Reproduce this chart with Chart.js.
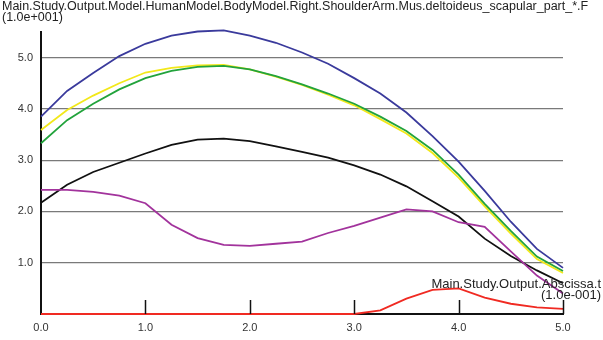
<!DOCTYPE html>
<html>
<head>
<meta charset="utf-8">
<script src="https://cdn.jsdelivr.net/npm/chart.js@4"></script>
<style>
  html, body { margin: 0; padding: 0; background: #fff; }
  #wrap { width: 603px; height: 340px; }
</style>
</head>
<body>
<div id="wrap"><canvas id="lineChart" width="603" height="340"></canvas></div>
<script>
// data (y in units of 1.0e+001)
const xs = [0, 0.25, 0.5, 0.75, 1, 1.25, 1.5, 1.75, 2, 2.25, 2.5, 2.75, 3, 3.25, 3.5, 3.75, 4, 4.25, 4.5, 4.75, 5];
const blueVals = [3.85, 4.35, 4.7, 5.03, 5.27, 5.43, 5.51, 5.53, 5.43, 5.29, 5.1, 4.88, 4.6, 4.3, 3.93, 3.47, 2.97, 2.4, 1.8, 1.27, 0.9];
const yellowVals = [3.59, 3.98, 4.26, 4.5, 4.71, 4.8, 4.85, 4.86, 4.77, 4.63, 4.47, 4.28, 4.07, 3.8, 3.52, 3.14, 2.66, 2.1, 1.57, 1.07, 0.8];
const greenVals = [3.33, 3.78, 4.1, 4.38, 4.6, 4.74, 4.82, 4.84, 4.77, 4.64, 4.48, 4.3, 4.1, 3.85, 3.57, 3.2, 2.72, 2.15, 1.62, 1.12, 0.84];
const blackVals = [2.17, 2.52, 2.77, 2.95, 3.13, 3.3, 3.4, 3.42, 3.37, 3.27, 3.16, 3.05, 2.9, 2.72, 2.49, 2.2, 1.9, 1.47, 1.13, 0.85, 0.6];
const purpleVals = [2.42, 2.42, 2.38, 2.31, 2.16, 1.74, 1.48, 1.35, 1.33, 1.37, 1.41, 1.58, 1.72, 1.88, 2.04, 2.0, 1.79, 1.7, 1.22, 0.75, 0.4];
const redVals = [0, 0, 0, 0, 0, 0, 0, 0, 0, 0, 0, 0, 0, 0.07, 0.3, 0.47, 0.5, 0.32, 0.2, 0.13, 0.1];

const xTicks = [0, 1, 2, 3, 4, 5];
const yTicks = [1, 2, 3, 4, 5];

const titleText = "Main.Study.Output.Model.HumanModel.BodyModel.Right.ShoulderArm.Mus.deltoideus_scapular_part_*.F";
const titleScale = "(1.0e+001)";
const xName = "Main.Study.Output.Abscissa.t";
const xScaleText = "(1.0e-001)";

const FONT = "'Liberation Sans', Arial, sans-serif";

function series(vals) {
  return xs.map((x, i) => ({ x: x, y: vals[i] }));
}

function makeSet(label, vals, color) {
  return {
    label: label,
    data: series(vals),
    borderColor: color,
    borderWidth: 1.8,
    pointRadius: 0,
    tension: 0,
    fill: false,
    clip: false,
  };
}

// extra texts and inward tick marks
const decorations = {
  id: "decorations",
  afterDraw(chart) {
    const c = chart.ctx;
    const xs_ = chart.scales.x;
    const area = chart.chartArea;
    c.save();
    c.strokeStyle = "#111";
    c.lineWidth = 1.5;
    xTicks.slice(1).forEach(v => {
      const px = Math.round(xs_.getPixelForValue(v)) + 0.5;
      c.beginPath();
      c.moveTo(px, area.bottom - 14);
      c.lineTo(px, area.bottom);
      c.stroke();
    });
    c.fillStyle = "#222";
    c.font = "12.5px " + FONT;
    c.textBaseline = "middle";
    c.textAlign = "left";
    c.fillText(titleText, 2, 7);
    c.fillText(titleScale, 2, 18);
    c.font = "13px " + FONT;
    c.textAlign = "right";
    c.fillText(xName, 601, 284);
    c.fillText(xScaleText, 601, 295);
    c.restore();
  },
};

const ctx = document.getElementById("lineChart").getContext("2d");
const lineChart = new Chart(ctx, {
  type: "line",
  data: {
    datasets: [
      makeSet("red", redVals, "#f02a22"),
      makeSet("purple", purpleVals, "#a2339c"),
      makeSet("black", blackVals, "#111111"),
      makeSet("green", greenVals, "#22a33c"),
      makeSet("yellow", yellowVals, "#f2e81a"),
      makeSet("blue", blueVals, "#3a3a9c"),
    ],
  },
  options: {
    responsive: false,
    animation: false,
    devicePixelRatio: 1,
    layout: { padding: { top: 32, right: 40, left: 0, bottom: 0 } },
    plugins: {
      legend: { display: false },
      tooltip: { enabled: false },
    },
    scales: {
      x: {
        type: "linear",
        min: 0,
        max: 5,
        afterFit: (s) => { s.height = 26; },
        afterBuildTicks: (s) => { s.ticks = xTicks.map(v => ({ value: v })); },
        grid: { display: false, drawTicks: false },
        border: { display: true, color: "#111", width: 2 },
        ticks: {
          padding: 7,
          color: "#333",
          font: { family: FONT, size: 11 },
          callback: (v) => v.toFixed(1),
        },
      },
      y: {
        type: "linear",
        min: 0,
        max: 5.5,
        afterFit: (s) => { s.width = 41; },
        afterBuildTicks: (s) => { s.ticks = yTicks.map(v => ({ value: v })); },
        grid: { color: "#7a7a7a", lineWidth: 1.3, drawTicks: false },
        border: { display: true, color: "#111", width: 2 },
        ticks: {
          padding: 8,
          color: "#333",
          font: { family: FONT, size: 11 },
          callback: (v) => v.toFixed(1),
        },
      },
    },
  },
  plugins: [decorations],
});
</script>
</body>
</html>
